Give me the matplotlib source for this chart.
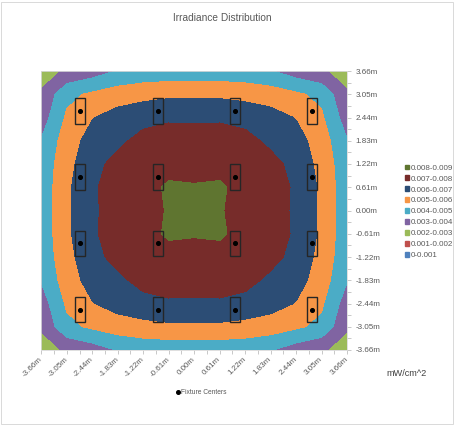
import numpy as np
import matplotlib
matplotlib.use('Agg')
import matplotlib.pyplot as plt
from matplotlib.patches import Rectangle, Patch
from matplotlib.lines import Line2D

plt.rcParams['font.family'] = ['Liberation Sans', 'DejaVu Sans']

# grid positions in metres (same for both axes)
positions = [-3.66, -3.05, -2.44, -1.83, -1.22, -0.61, 0.00, 0.61, 1.22, 1.83, 2.44, 3.05, 3.66]
tick_labels = ['%.2fm' % p for p in positions]

# irradiance, in 1e-3 mW/cm^2, rows from top (3.66m) to bottom (-3.66m)
irr_rows = [
    [2.66, 3.10, 3.50, 4.05, 4.25, 4.34, 4.33, 4.34, 4.25, 4.05, 3.50, 3.10, 2.66],
    [3.10, 4.75, 5.15, 5.50, 5.71, 5.80, 5.79, 5.80, 5.71, 5.50, 5.15, 4.75, 3.10],
    [3.50, 5.15, 5.95, 6.40, 6.60, 6.87, 6.85, 6.87, 6.60, 6.40, 5.95, 5.15, 3.50],
    [4.05, 5.50, 6.40, 6.73, 7.39, 7.42, 7.39, 7.42, 7.39, 6.73, 6.40, 5.50, 4.05],
    [4.25, 5.71, 6.60, 7.39, 7.75, 7.90, 7.85, 7.90, 7.75, 7.39, 6.60, 5.71, 4.25],
    [4.34, 5.80, 6.87, 7.42, 7.90, 8.04, 8.03, 8.04, 7.90, 7.42, 6.87, 5.80, 4.34],
    [4.33, 5.79, 6.85, 7.39, 7.85, 8.03, 8.12, 8.03, 7.85, 7.39, 6.85, 5.79, 4.33],
    [4.34, 5.80, 6.87, 7.42, 7.90, 8.04, 8.03, 8.04, 7.90, 7.42, 6.87, 5.80, 4.34],
    [4.25, 5.71, 6.60, 7.39, 7.75, 7.90, 7.85, 7.90, 7.75, 7.39, 6.60, 5.71, 4.25],
    [4.05, 5.50, 6.40, 6.73, 7.39, 7.42, 7.39, 7.42, 7.39, 6.73, 6.40, 5.50, 4.05],
    [3.50, 5.15, 5.95, 6.40, 6.60, 6.87, 6.85, 6.87, 6.60, 6.40, 5.95, 5.15, 3.50],
    [3.10, 4.75, 5.15, 5.50, 5.71, 5.80, 5.79, 5.80, 5.71, 5.50, 5.15, 4.75, 3.10],
    [2.66, 3.10, 3.50, 4.05, 4.25, 4.34, 4.33, 4.34, 4.25, 4.05, 3.50, 3.10, 2.66],
]

band_edges = [0.000, 0.001, 0.002, 0.003, 0.004, 0.005, 0.006, 0.007, 0.008, 0.009]
band_labels = ['0-0.001', '0.001-0.002', '0.002-0.003', '0.003-0.004', '0.004-0.005',
               '0.005-0.006', '0.006-0.007', '0.007-0.008', '0.008-0.009']
band_colors = ['#4F81BD', '#C0504D', '#9BBB59', '#8064A2', '#4BACC6',
               '#F79646', '#2C4D75', '#772C2A', '#5F7530']

fixture_x = [-2.73, -0.87, 0.98, 2.83]
fixture_y = [2.61, 0.88, -0.86, -2.60]

irr = np.array(irr_rows) / 1000.0
fx, fy = np.meshgrid(fixture_x, fixture_y)

fig = plt.figure(figsize=(4.54, 4.25), dpi=100)
ax = fig.add_axes([41.3 / 454, 1 - 350 / 425, (347 - 41.3) / 454, (350 - 71) / 425])

ax.contourf(positions, positions[::-1], irr, levels=band_edges, colors=band_colors)

# fixture boxes + centres
for x, y in zip(fx.ravel(), fy.ravel()):
    ax.add_patch(Rectangle((x - 0.12, y - 0.33), 0.24, 0.66, fill=False,
                           ec='#262626', lw=1.0, zorder=4))
ax.scatter(fx.ravel(), fy.ravel(), s=7, color='black', zorder=5)

ax.set_xlim(-3.66, 3.66)
ax.set_ylim(-3.66, 3.66)

mids = [(a + b) / 2 for a, b in zip(positions[:-1], positions[1:])]
ax.set_xticks(positions)
ax.set_xticklabels(tick_labels, rotation=45, ha='right', va='center', rotation_mode='anchor')
ax.set_xticks(mids, minor=True)
ax.yaxis.tick_right()
ax.set_yticks(positions)
ax.set_yticklabels(tick_labels)
ax.set_yticks(mids, minor=True)
ax.tick_params(which='both', direction='out', length=3, width=0.6, color='#BFBFBF',
               labelsize=5.8, labelcolor='#595959', pad=3)
for s in ax.spines.values():
    s.set_color('#D9D9D9')
    s.set_linewidth(0.6)

fig.text(222 / 454, 1 - 18 / 425, 'Irradiance Distribution', ha='center', va='center',
         fontsize=7.3, color='#595959')
fig.text(386 / 454, 1 - 373 / 425, 'mW/cm^2', ha='left', va='center', fontsize=6.6, color='#404040')

handles = [Patch(color=c, label=l) for c, l in zip(band_colors[::-1], band_labels[::-1])]
fig.legend(handles=handles, loc='upper left', bbox_to_anchor=(404.5 / 454, 1 - 164.5 / 425),
           frameon=False, fontsize=5.8, labelcolor='#595959', handlelength=0.55, handleheight=0.55,
           handletextpad=0.25, labelspacing=0.45, borderpad=0, borderaxespad=0)

fix_handle = Line2D([], [], ls='none', marker='o', ms=2.6, color='black', label='Fixture Centers')
fig.legend(handles=[fix_handle], loc='center left', bbox_to_anchor=(176 / 454, 1 - 393 / 425),
           frameon=False, fontsize=4.8, labelcolor='#595959', handlelength=0.6, handletextpad=0.1,
           borderpad=0, borderaxespad=0)

fig.patches.append(Rectangle((0.002, 0.003), 0.996, 0.993, transform=fig.transFigure,
                             fill=False, ec='#D9D9D9', lw=0.7))

fig.savefig('out.png', dpi=100)
